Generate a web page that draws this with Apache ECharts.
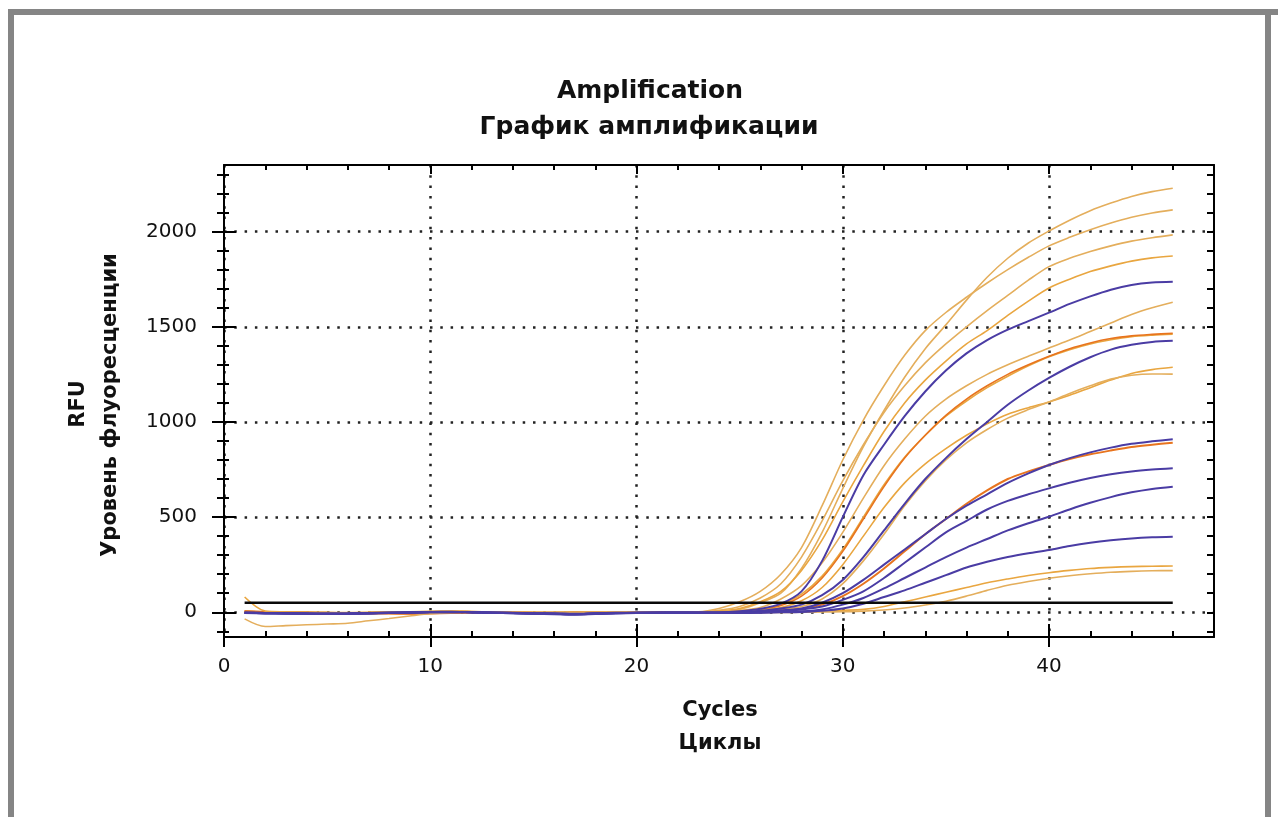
<!DOCTYPE html>
<html><head><meta charset="utf-8">
<script src="https://cdn.jsdelivr.net/npm/echarts@6/dist/echarts.min.js"></script>
<style>html,body{margin:0;padding:0;background:#fff}#c{width:1278px;height:817px}</style>
</head><body><div id="c"></div>
<script>
// ---- data ----
const cycles = [1,2,3,4,5,6,7,8,9,10,11,12,13,14,15,16,17,18,19,20,21,22,23,24,25,26,27,28,29,30,31,32,33,34,35,36,37,38,39,40,41,42,43,44,45,46];
const xMajorTicks = [0,10,20,30,40];
const xMinorTicks = [0,2,4,6,8,10,12,14,16,18,20,22,24,26,28,30,32,34,36,38,40,42,44,46,48];
const yMajorTicks = [0,500,1000,1500,2000];
const yMinorTicks = [-100,0,100,200,300,400,500,600,700,800,900,1000,1100,1200,1300,1400,1500,1600,1700,1800,1900,2000,2100,2200,2300];
const thresholdCycles = [1,46];
const thresholdRFU = 50;

const o1 = [6,3,1,0,-2,-3,-2,0,2,3,4,2,0,-2,-3,-2,0,1,2,1,0,1,2,3,15,50,100,230,420,650,870,1060,1235,1385,1510,1640,1760,1860,1940,2003,2060,2110,2150,2185,2210,2228];
const o2 = [2,0,-1,-2,-3,-3,-1,1,3,5,6,4,1,-1,-2,-1,1,2,3,2,1,2,3,20,55,110,200,340,560,800,1010,1190,1350,1480,1575,1655,1730,1800,1865,1925,1970,2010,2045,2075,2098,2114];
const o3 = [4,2,0,-1,-3,-4,-3,-1,1,2,3,2,0,-1,-2,-3,-1,0,1,1,0,1,1,10,30,75,150,290,480,690,880,1050,1190,1310,1410,1500,1585,1665,1745,1816,1860,1895,1925,1950,1968,1983];
const o4 = [3,1,0,-1,-2,-2,-1,0,1,3,5,4,2,0,-1,-2,-1,0,1,2,1,1,1,6,20,55,110,220,380,580,770,950,1100,1220,1320,1410,1480,1560,1635,1704,1750,1790,1820,1845,1862,1872];
const o5 = [5,2,0,-2,-3,-4,-3,-1,1,2,3,1,-1,-2,-3,-2,0,1,2,2,1,1,2,3,10,25,70,140,260,420,600,770,910,1030,1120,1190,1250,1300,1345,1389,1430,1475,1520,1565,1600,1629];
const o6 = [3,1,-1,-2,-3,-3,-2,0,1,2,4,3,1,-1,-2,-2,0,1,1,1,0,0,1,2,6,15,40,95,190,330,500,670,815,930,1030,1110,1180,1240,1295,1343,1380,1410,1432,1448,1456,1461];
const o6r = [4,1,-1,-3,-4,-5,-5,-6,-7,-5,-3,-1,0,-1,-3,-4,-2,-1,0,1,2,1,2,0,4,12,35,85,180,320,490,660,810,930,1035,1120,1190,1250,1300,1345,1385,1415,1438,1452,1460,1466];
const o7 = [2,0,-1,-2,-2,-3,-2,-1,1,2,4,3,1,0,-1,-2,-1,0,1,1,1,0,1,2,5,12,25,60,130,250,400,550,680,780,860,930,990,1040,1075,1105,1140,1180,1220,1255,1275,1287];
const o8 = [3,1,0,-1,-2,-3,-2,0,2,4,5,3,1,-1,-2,-2,0,0,1,1,0,0,0,0,3,8,15,30,70,150,270,410,560,690,800,890,960,1020,1065,1105,1150,1190,1225,1245,1252,1251];
const o9r = [5,2,-1,-3,-5,-6,-6,-7,-8,-6,-4,-2,-1,-2,-4,-5,-3,-2,-1,0,1,0,0,-2,0,3,8,18,40,85,150,230,320,410,490,570,640,700,740,774,805,830,850,868,880,891];
const o10 = [80,6,2,0,-2,-3,-2,0,2,3,4,2,0,-1,-2,-2,-1,0,1,0,-1,-1,-1,-1,0,1,2,4,6,10,15,30,55,80,105,130,155,175,193,208,220,230,236,240,242,243];
const o11 = [-35,-75,-70,-66,-62,-58,-45,-33,-20,-8,-2,0,1,0,-1,-2,-1,0,1,0,-1,-2,-2,-3,-2,-2,-1,0,1,3,6,12,22,38,58,85,115,142,162,179,192,202,210,215,218,219];
const b1 = [-2,-4,-5,-6,-7,-6,-4,-2,0,2,3,1,-1,-3,-5,-6,-8,-5,-3,-2,-1,0,0,0,5,18,45,110,270,500,720,880,1030,1160,1270,1360,1430,1485,1530,1574,1620,1660,1695,1720,1733,1737];
const b2 = [-3,-5,-6,-7,-8,-7,-5,-3,-1,1,2,0,-2,-4,-6,-8,-10,-7,-4,-3,-2,-1,-2,-2,0,8,20,40,90,170,290,430,570,700,810,910,1000,1090,1165,1231,1290,1340,1380,1405,1420,1426];
const b3 = [-3,-5,-6,-8,-9,-8,-6,-4,-2,0,1,0,-2,-5,-7,-9,-12,-8,-5,-4,-3,-3,-3,-3,-1,3,10,20,50,100,170,250,330,410,490,560,620,680,730,774,810,840,865,885,898,909];
const b4 = [-4,-6,-7,-8,-9,-8,-6,-4,-2,0,1,-1,-3,-5,-8,-10,-12,-9,-6,-4,-3,-3,-3,-3,-2,0,5,15,30,65,110,180,260,340,420,480,540,585,620,651,680,705,725,740,750,757];
const b5 = [-2,-4,-5,-7,-8,-7,-5,-3,-1,1,2,0,-2,-4,-6,-7,-9,-6,-4,-3,-3,-4,-4,-4,-3,-1,2,5,15,40,75,125,180,235,290,340,385,430,468,502,540,575,605,630,648,660];
const b6 = [-3,-5,-6,-7,-8,-7,-5,-3,-1,1,2,0,-2,-4,-6,-8,-10,-7,-4,-3,-3,-4,-4,-4,-3,-2,0,2,8,20,45,80,115,155,195,235,265,290,310,327,348,365,378,388,394,397];

// ---- styling ----
const TAN = '#E4AE5C', TAN2 = '#E9A640', RED = '#E8741E', BLUE = '#4A3CA4';
const X_MIN = 0, X_MAX = 48, Y_MIN = -130, Y_MAX = 2350;

function curve(arr, color, width) {
  return {
    type: 'line', xAxisIndex: 0, yAxisIndex: 0,
    data: cycles.map((c, i) => [c, arr[i]]),
    showSymbol: false, symbol: 'none', smooth: 0.3,
    lineStyle: { color: color, width: width },
    silent: true, animation: false
  };
}

const series = [
  curve(o1, TAN, 1.6), curve(o2, TAN, 1.6), curve(o3, TAN, 1.6), curve(o4, TAN2, 1.6),
  curve(o5, TAN, 1.6), curve(o6, TAN2, 1.6), curve(o6r, RED, 1.6), curve(o7, TAN2, 1.6),
  curve(o8, TAN, 1.6), curve(o9r, RED, 2), curve(o10, TAN2, 1.6), curve(o11, TAN, 1.6),
  curve(b1, BLUE, 2), curve(b2, BLUE, 2), curve(b3, BLUE, 2), curve(b4, BLUE, 2),
  curve(b5, BLUE, 2), curve(b6, BLUE, 2),
  {
    type: 'line', xAxisIndex: 0, yAxisIndex: 0,
    data: thresholdCycles.map(c => [c, thresholdRFU]),
    showSymbol: false, symbol: 'none',
    lineStyle: { color: '#0a0a0a', width: 2.5 }, silent: true, animation: false
  }
];

const tickStyle = { color: '#000', width: 2 };
const dotted = { type: [2.5, 7.8], color: '#222', width: 2.5 };
const labelFont = { fontFamily: 'DejaVu Sans', fontSize: 20, color: '#111', formatter: v => String(v) };

function xAx(pos, opts) {
  return Object.assign({
    type: 'value', gridIndex: 0, position: pos, min: X_MIN, max: X_MAX,
    axisLine: { show: false, onZero: false },
    axisTick: { show: false }, axisLabel: { show: false }, splitLine: { show: false }
  }, opts);
}
function yAx(pos, opts) {
  return Object.assign({
    type: 'value', gridIndex: 0, position: pos, min: Y_MIN, max: Y_MAX,
    axisLine: { show: false, onZero: false },
    axisTick: { show: false }, axisLabel: { show: false }, splitLine: { show: false }
  }, opts);
}

const option = {
  animation: false,
  backgroundColor: '#ffffff',
  grid: { left: 224, top: 165, width: 990, height: 472, containLabel: false },
  xAxis: [
    xAx('bottom', {
      axisLine: { show: true, onZero: false, lineStyle: { color: '#000', width: 2 } },
      axisTick: { show: true, inside: false, length: 10, customValues: xMajorTicks, lineStyle: tickStyle },
      axisLabel: Object.assign({ show: true, margin: 20, customValues: xMajorTicks }, labelFont),
      splitLine: { show: true, lineStyle: dotted }
    }),
    xAx('bottom', { axisTick: { show: true, inside: true, length: 6, customValues: xMinorTicks, lineStyle: tickStyle } }),
    xAx('bottom', { axisTick: { show: true, inside: true, length: 13, customValues: xMajorTicks, lineStyle: tickStyle } }),
    xAx('top', {
      axisLine: { show: true, onZero: false, lineStyle: { color: '#000', width: 2 } },
      axisTick: { show: true, inside: true, length: 5, customValues: xMinorTicks, lineStyle: tickStyle }
    }),
    xAx('top', { axisTick: { show: true, inside: true, length: 9, customValues: xMajorTicks, lineStyle: tickStyle } })
  ],
  yAxis: [
    yAx('left', {
      axisLine: { show: true, onZero: false, lineStyle: { color: '#000', width: 2 } },
      axisTick: { show: true, inside: false, length: 12, customValues: yMajorTicks, lineStyle: tickStyle },
      axisLabel: Object.assign({ show: true, margin: 27, customValues: yMajorTicks }, labelFont),
      splitLine: { show: true, lineStyle: dotted }
    }),
    yAx('left', { axisTick: { show: true, inside: false, length: 7, customValues: yMinorTicks, lineStyle: tickStyle } }),
    yAx('left', { axisTick: { show: true, inside: true, length: 5, customValues: yMinorTicks, lineStyle: tickStyle } }),
    yAx('left', { axisTick: { show: true, inside: true, length: 12, customValues: yMajorTicks, lineStyle: tickStyle } }),
    yAx('right', {
      axisLine: { show: true, onZero: false, lineStyle: { color: '#000', width: 2 } },
      axisTick: { show: true, inside: true, length: 7, customValues: yMinorTicks, lineStyle: tickStyle }
    })
  ],
  series: series,
  graphic: [
    { type: 'rect', silent: true, shape: { x: 8, y: 9, width: 1270, height: 6 }, style: { fill: '#858585' } },
    { type: 'rect', silent: true, shape: { x: 8, y: 9, width: 6, height: 808 }, style: { fill: '#858585' } },
    { type: 'rect', silent: true, shape: { x: 1265, y: 9, width: 6, height: 808 }, style: { fill: '#858585' } },
    { type: 'text', silent: true, x: 650, y: 91, style: { text: 'Amplification', fontFamily: 'DejaVu Sans', fontWeight: 'bold', fontSize: 25, fill: '#111', align: 'center', verticalAlign: 'middle' } },
    { type: 'text', silent: true, x: 649, y: 127, style: { text: 'График амплификации', fontFamily: 'DejaVu Sans', fontWeight: 'bold', fontSize: 25, fill: '#111', align: 'center', verticalAlign: 'middle' } },
    { type: 'text', silent: true, x: 720, y: 711, style: { text: 'Cycles', fontFamily: 'DejaVu Sans', fontWeight: 'bold', fontSize: 21, fill: '#111', align: 'center', verticalAlign: 'middle' } },
    { type: 'text', silent: true, x: 720, y: 744, style: { text: 'Циклы', fontFamily: 'DejaVu Sans', fontWeight: 'bold', fontSize: 21, fill: '#111', align: 'center', verticalAlign: 'middle' } },
    { type: 'text', silent: true, x: 79, y: 404, rotation: Math.PI / 2, style: { text: 'RFU', fontFamily: 'DejaVu Sans', fontWeight: 'bold', fontSize: 21, fill: '#111', align: 'center', verticalAlign: 'middle' } },
    { type: 'text', silent: true, x: 111, y: 405, rotation: Math.PI / 2, style: { text: 'Уровень флуоресценции', fontFamily: 'DejaVu Sans', fontWeight: 'bold', fontSize: 21, fill: '#111', align: 'center', verticalAlign: 'middle' } }
  ]
};

const chart = echarts.init(document.getElementById('c'), null, { renderer: 'canvas' });
chart.setOption(option);
</script>
</body></html>
